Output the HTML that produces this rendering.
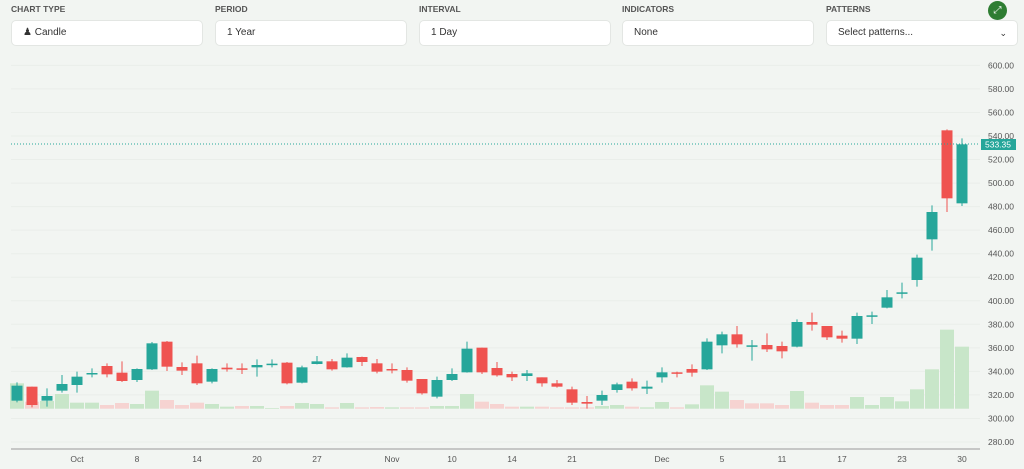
<!DOCTYPE html>
<html><head><meta charset="utf-8"><style>
body{margin:0;width:1024px;height:469px;background:#f2f5f2;font-family:"Liberation Sans",sans-serif;overflow:hidden;position:relative}
.lab{position:absolute;top:4px;font-size:8.5px;font-weight:bold;color:#555}
.box{position:absolute;top:20px;height:26px;background:#fff;border:1px solid #e3e6e3;border-radius:5px;box-sizing:border-box;font-size:10px;color:#333;line-height:24px;padding-left:11px}
svg{position:absolute;left:0;top:0}
</style></head><body>
<div class="lab" style="left:11px">CHART TYPE</div>
<div class="lab" style="left:215px">PERIOD</div>
<div class="lab" style="left:419px">INTERVAL</div>
<div class="lab" style="left:622px">INDICATORS</div>
<div class="lab" style="left:826px">PATTERNS</div>
<div class="box" style="left:11px;width:192px">♟ Candle</div>
<div class="box" style="left:215px;width:192px">1 Year</div>
<div class="box" style="left:419px;width:192px">1 Day</div>
<div class="box" style="left:622px;width:192px">None</div>
<div class="box" style="left:826px;width:192px">Select patterns...<span style="position:absolute;right:10px;top:0;font-size:9px">⌄</span></div>
<div style="position:absolute;left:988px;top:1px;width:19px;height:19px;border-radius:50%;background:#2e7d32;color:#fff;font-size:10px;text-align:center;line-height:19px">⤢</div>
<svg id="s" width="1024" height="469"></svg>
<script>
const G='#26a69a',R='#ef5350',VG='#c8e6c9',VR='#f6d3d1';
const d=[
['g',197,242,187,247,190,'g'],['r',200,255,200,262,245,'r'],['g',228,242,205,260,243,'g'],['g',192,212,165,218,222,'g'],['g',170,195,155,218,248,'g'],['g',159,162,145,172,248,'g'],['r',138,163,130,172,255,'r'],['r',158,183,124,186,249,'r'],['g',147,180,145,186,252,'g'],['g',70,148,66,150,212,'g'],
['r',65,140,63,153,240,'r'],['r',141,152,127,165,255,'r'],['r',130,190,107,195,248,'r'],['g',147,185,145,190,252,'g'],['r',143,148,130,155,260,'g'],['r',145,148,130,162,258,'r'],['g',135,142,118,170,258,'g'],['g',131,134,118,142,264,'g'],['r',128,190,126,193,258,'r'],['g',142,188,137,190,249,'g'],
['g',124,132,108,133,252,'g'],['r',124,148,117,152,262,'r'],['g',113,142,100,143,249,'g'],['r',111,126,110,138,262,'r'],['r',130,155,117,160,261,'r'],['r',147,150,130,160,262,'g'],['r',150,182,142,188,262,'r'],['r',177,220,177,224,262,'r'],['g',180,230,170,235,258,'g'],['g',162,180,145,183,258,'g'],
['g',86,157,65,158,222,'g'],['r',83,157,83,162,245,'r'],['r',144,166,126,170,252,'r'],['r',162,172,155,183,260,'r'],
['g',760,768,750,783,860,'g'],['r',772,790,772,800,860,'r'],['r',790,800,780,803,862,'r'],['r',808,848,800,855,862,'r'],['r',846,851,828,866,862,'r'],['g',825,842,812,855,858,'g'],['g',793,810,788,818,855,'g'],['r',785,805,775,812,860,'r'],['g',800,806,782,822,862,'g'],['g',757,772,742,788,846,'g'],
['r',757,761,755,772,862,'r'],['r',747,758,733,770,853,'g'],['g',665,748,655,750,796,'g'],['g',643,676,635,700,815,'g'],['r',643,673,618,683,840,'r'],['g',676,680,660,722,850,'r'],['r',675,688,640,696,850,'r'],['r',678,694,665,715,855,'r'],['g',606,680,598,682,813,'g'],['r',606,614,578,632,848,'r'],
['r',618,652,618,660,855,'r'],['r',647,656,632,668,855,'r'],['g',588,656,578,672,831,'g'],['g',586,590,575,612,855,'g'],['g',532,563,510,565,831,'g'],['g',517,521,488,535,844,'g'],['g',413,480,404,500,808,'g'],['g',276,358,256,392,748,'g'],['r',31,235,28,276,629,'g'],['g',73,250,55,258,680,'g']];
let h='';
const yv=v=>136+(540-v)*1.1769;
for(let v=280;v<=600;v+=20){const y=yv(v);h+=`<line x1="11" x2="980" y1="${y}" y2="${y}" stroke="#eaeeea" stroke-width="1"/><text x="1014" y="${y+3}" font-size="8.5" fill="#555" text-anchor="end">${v}.00</text>`;}
d.forEach((c,i)=>{const f=i<34?(z=>320+z/3):(z=>120+z/3);const x=17+15*i;const vt=f(c[5]),vb=408.7;
h+=`<rect x="${x-7}" y="${vt}" width="14" height="${vb-vt}" fill="${c[6]=='g'?VG:VR}"/>`;});
d.forEach((c,i)=>{const f=i<34?(z=>320+z/3):(z=>120+z/3);const x=17+15*i;const col=c[0]=='g'?G:R;
let bt=f(c[1]),bb=f(c[2]);if(bb-bt<1.5)bb=bt+1.5;
h+=`<line x1="${x}" x2="${x}" y1="${f(c[3])}" y2="${f(c[4])}" stroke="${col}" stroke-width="1"/><rect x="${x-5.5}" y="${bt}" width="11" height="${bb-bt}" fill="${col}"/>`;});
h+=`<line x1="11" x2="980" y1="144" y2="144" stroke="${G}" stroke-dasharray="1,2"/><rect x="981" y="139" width="35" height="11" fill="${G}"/><text x="998" y="147.5" font-size="8.5" fill="#fff" text-anchor="middle">533.35</text>`;
h+=`<line x1="11" x2="980" y1="449" y2="449" stroke="#999"/>`;
[['Oct',4],['8',8],['14',12],['20',16],['27',20],['Nov',25],['10',29],['14',33],['21',37],['Dec',43],['5',47],['11',51],['17',55],['23',59],['30',63]].forEach(t=>{h+=`<text x="${17+15*t[1]}" y="462" font-size="8.5" fill="#555" text-anchor="middle">${t[0]}</text>`;});
document.getElementById('s').innerHTML=h;
</script>
</body></html>
